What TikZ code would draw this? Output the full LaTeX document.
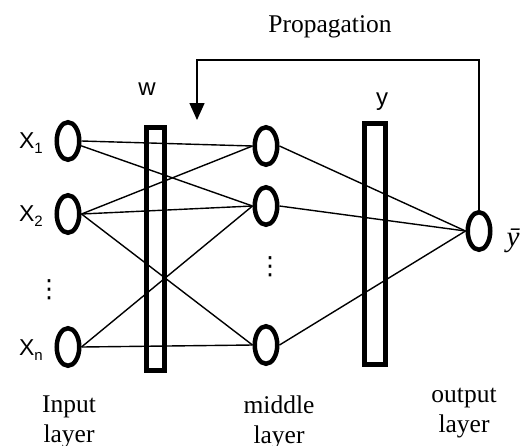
\documentclass[tikz,border=0pt]{standalone}
\usepackage{fontspec}
\setmainfont{Liberation Serif}
\setsansfont{Liberation Sans}
\newfontfamily\dejavu{DejaVu Sans}
\usetikzlibrary{arrows.meta,shapes.geometric}
\newcommand{\xlab}[2]{\sffamily\fontsize{23}{23}\selectfont #1\raisebox{-0.35ex}{\fontsize{15}{15}\selectfont #2}}
\begin{document}
\begin{tikzpicture}[x=1pt,y=-1pt,
  neuron/.style={draw, line width=4.5pt, ellipse, minimum width=22.5pt, minimum height=37.5pt, inner sep=0pt},
  wbar/.style={draw, line width=5pt, rectangle, inner sep=0pt},
  link/.style={line width=1.4pt},
  fb/.style={line width=1.5pt, -{Triangle[width=15pt,length=17pt]}},
  serif/.style={font=\fontsize{25.5}{30}\selectfont, align=center},
  sanslab/.style={font=\sffamily\fontsize{24}{24}\selectfont},
  vdot/.style={inner sep=0pt, font=\dejavu\fontsize{25}{25}\selectfont}]
\useasboundingbox (0,0) rectangle (532,445);
% input layer
\node[neuron] (i1) at (68,141) {};
\node[neuron] (i2) at (68,214) {};
\node[neuron] (in) at (68,347) {};
% middle layer
\node[neuron] (m1) at (266,146) {};
\node[neuron] (m2) at (266,206) {};
\node[neuron] (mn) at (266,345) {};
% output
\node[neuron] (out) at (479,231) {};
% bars
\node[wbar, minimum width=18pt, minimum height=243pt] (W) at (155.5,249) {};
\node[wbar, minimum width=21pt, minimum height=241pt] (Y) at (375,244) {};
% labels
\node[anchor=east, inner sep=0pt] (x1) at (43,143) {\xlab{X}{1}};
\node[anchor=east, inner sep=0pt] (x2) at (43,216) {\xlab{X}{2}};
\node[anchor=east, inner sep=0pt] (xn) at (43,350) {\xlab{X}{n}};
\node[vdot] (d1) at (49,290) {⋮};
\node[vdot] (d2) at (270,267) {⋮};
\node[sanslab, anchor=base] (wl) at (147,95) {w};
\node[sanslab, anchor=base] (yl) at (382,105) {y};
\node[inner sep=0pt, anchor=base] (yb) at (513,246) {\fontsize{29}{29}\selectfont\itshape ȳ};
\node[serif, anchor=base] (prop) at (330,32) {Propagation};
\node[serif, anchor=base] (il) at (69,412) {Input};
\node[serif, anchor=base] (il2) at (69,442) {layer};
\node[serif, anchor=base] (ml) at (279,413) {middle};
\node[serif, anchor=base] (ml2) at (279,443) {layer};
\node[serif, anchor=base] (ol) at (464,402) {output};
\node[serif, anchor=base] (ol2) at (464,432) {layer};
% connections
\draw[link] (i1.east) -- (m1.west);
\draw[link] (i1.-20) -- (m2.west);
\draw[link] (i2.east) -- (m1.west);
\draw[link] (i2.east) -- (m2.west);
\draw[link] (i2.east) -- (mn.west);
\draw[link] (in.east) -- (m2.west);
\draw[link] (in.east) -- (mn.west);
\draw[link] (m1.east) -- (out.west);
\draw[link] (m2.east) -- (out.west);
\draw[link] (mn.east) -- (out.west);
% feedback
\coordinate (fbc) at (479,60);
\coordinate (fbl) at (197,60);
\coordinate (fbt) at (197,120);
\draw[fb] (out.north) -- (fbc) -- (fbl) -- (fbt);
\end{tikzpicture}
\end{document}
